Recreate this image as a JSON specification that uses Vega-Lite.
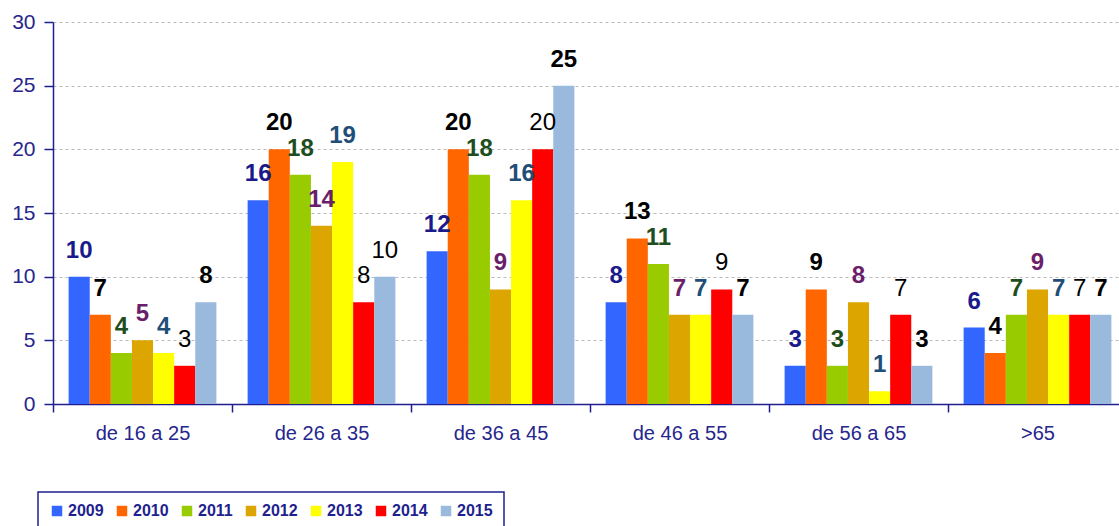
{
  "$schema": "https://vega.github.io/schema/vega-lite/v6.json",
  "autosize": "none",
  "width": 1066,
  "height": 382,
  "padding": {"left": 53, "top": 22, "right": 0, "bottom": 122},
  "background": "white",
  "config": {
    "view": {"stroke": null},
    "font": "Liberation Sans"
  },
  "data": {
    "values": [
      {"group": "de 16 a 25", "year": "2009", "value": 10},
      {"group": "de 16 a 25", "year": "2010", "value": 7},
      {"group": "de 16 a 25", "year": "2011", "value": 4},
      {"group": "de 16 a 25", "year": "2012", "value": 5},
      {"group": "de 16 a 25", "year": "2013", "value": 4},
      {"group": "de 16 a 25", "year": "2014", "value": 3},
      {"group": "de 16 a 25", "year": "2015", "value": 8},
      {"group": "de 26 a 35", "year": "2009", "value": 16},
      {"group": "de 26 a 35", "year": "2010", "value": 20},
      {"group": "de 26 a 35", "year": "2011", "value": 18},
      {"group": "de 26 a 35", "year": "2012", "value": 14},
      {"group": "de 26 a 35", "year": "2013", "value": 19},
      {"group": "de 26 a 35", "year": "2014", "value": 8},
      {"group": "de 26 a 35", "year": "2015", "value": 10},
      {"group": "de 36 a 45", "year": "2009", "value": 12},
      {"group": "de 36 a 45", "year": "2010", "value": 20},
      {"group": "de 36 a 45", "year": "2011", "value": 18},
      {"group": "de 36 a 45", "year": "2012", "value": 9},
      {"group": "de 36 a 45", "year": "2013", "value": 16},
      {"group": "de 36 a 45", "year": "2014", "value": 20},
      {"group": "de 36 a 45", "year": "2015", "value": 25},
      {"group": "de 46 a 55", "year": "2009", "value": 8},
      {"group": "de 46 a 55", "year": "2010", "value": 13},
      {"group": "de 46 a 55", "year": "2011", "value": 11},
      {"group": "de 46 a 55", "year": "2012", "value": 7},
      {"group": "de 46 a 55", "year": "2013", "value": 7},
      {"group": "de 46 a 55", "year": "2014", "value": 9},
      {"group": "de 46 a 55", "year": "2015", "value": 7},
      {"group": "de 56 a 65", "year": "2009", "value": 3},
      {"group": "de 56 a 65", "year": "2010", "value": 9},
      {"group": "de 56 a 65", "year": "2011", "value": 3},
      {"group": "de 56 a 65", "year": "2012", "value": 8},
      {"group": "de 56 a 65", "year": "2013", "value": 1},
      {"group": "de 56 a 65", "year": "2014", "value": 7},
      {"group": "de 56 a 65", "year": "2015", "value": 3},
      {"group": ">65", "year": "2009", "value": 6},
      {"group": ">65", "year": "2010", "value": 4},
      {"group": ">65", "year": "2011", "value": 7},
      {"group": ">65", "year": "2012", "value": 9},
      {"group": ">65", "year": "2013", "value": 7},
      {"group": ">65", "year": "2014", "value": 7},
      {"group": ">65", "year": "2015", "value": 7}
    ]
  },
  "encoding": {
    "x": {
      "field": "group", "type": "nominal", "sort": null,
      "scale": {"paddingInner": 0, "paddingOuter": 0, "range": [0, 1074]},
      "axis": {
        "title": null, "labelAngle": 0,
        "domainColor": "#1F1F8F", "domainWidth": 1.5,
        "tickColor": "#1F1F8F", "tickWidth": 1.5, "tickSize": 8, "tickBand": "extent",
        "labelFont": "Liberation Sans", "labelFontSize": 20,
        "labelColor": "#26268C", "labelPadding": 11
      }
    },
    "xOffset": {
      "field": "year", "type": "nominal",
      "scale": {"paddingInner": 0, "paddingOuter": 0.74}
    },
    "y": {
      "field": "value", "type": "quantitative",
      "scale": {"domain": [0, 30], "nice": false},
      "axis": {
        "title": null, "values": [0, 5, 10, 15, 20, 25, 30],
        "domainColor": "#1F1F8F", "domainWidth": 1.5,
        "tickColor": "#1F1F8F", "tickWidth": 1.5, "tickSize": 9,
        "labelFont": "Liberation Sans", "labelFontSize": 21,
        "labelColor": "#26268C", "labelPadding": 9,
        "grid": true, "gridColor": "#BBBBBB", "gridDash": [3, 3], "gridWidth": 1
      }
    }
  },
  "layer": [
    {
      "mark": {"type": "bar"},
      "encoding": {
        "color": {
          "field": "year", "type": "nominal",
          "scale": {
            "domain": ["2009", "2010", "2011", "2012", "2013", "2014", "2015"],
            "range": ["#3366FF", "#FF6600", "#99CC00", "#DDA500", "#FFFF00", "#FF0000", "#99B9DD"]
          },
          "legend": {
            "title": null, "orient": "none", "legendX": -15, "legendY": 470,
            "direction": "horizontal", "columns": 7,
            "symbolType": "square", "symbolSize": 110, "symbolStrokeWidth": 0,
            "labelFont": "Liberation Sans", "labelFontSize": 16, "labelFontWeight": "bold",
            "labelColor": "#1F1F8F", "labelOffset": 3, "columnPadding": 10,
            "strokeColor": "#1F1F8F", "fillColor": "white",
            "padding": 11,
            "encode": {"legend": {"update": {"strokeWidth": {"value": 1.5}}}}
          }
        }
      }
    },
    {
      "transform": [{"filter": "datum.year != '2014' && !(datum.year == '2015' && datum.group == 'de 26 a 35')"}],
      "mark": {"type": "text", "baseline": "bottom", "dy": -14, "fontSize": 24, "fontWeight": "bold", "font": "Liberation Sans"},
      "encoding": {
        "text": {"field": "value", "type": "quantitative"},
        "color": {
          "field": "year", "type": "nominal",
          "scale": {
            "domain": ["2009", "2010", "2011", "2012", "2013", "2014", "2015"],
            "range": ["#1A1A8C", "#000000", "#1E4D1E", "#6B1F6B", "#1F4E79", "#000000", "#000000"]
          },
          "legend": null
        }
      }
    },
    {
      "transform": [{"filter": "datum.year == '2014' || (datum.year == '2015' && datum.group == 'de 26 a 35')"}],
      "mark": {"type": "text", "baseline": "bottom", "dy": -14, "fontSize": 24, "fontWeight": "normal", "font": "Liberation Sans", "color": "#000000"},
      "encoding": {
        "text": {"field": "value", "type": "quantitative"}
      }
    }
  ],
  "resolve": {"scale": {"color": "independent"}}
}
